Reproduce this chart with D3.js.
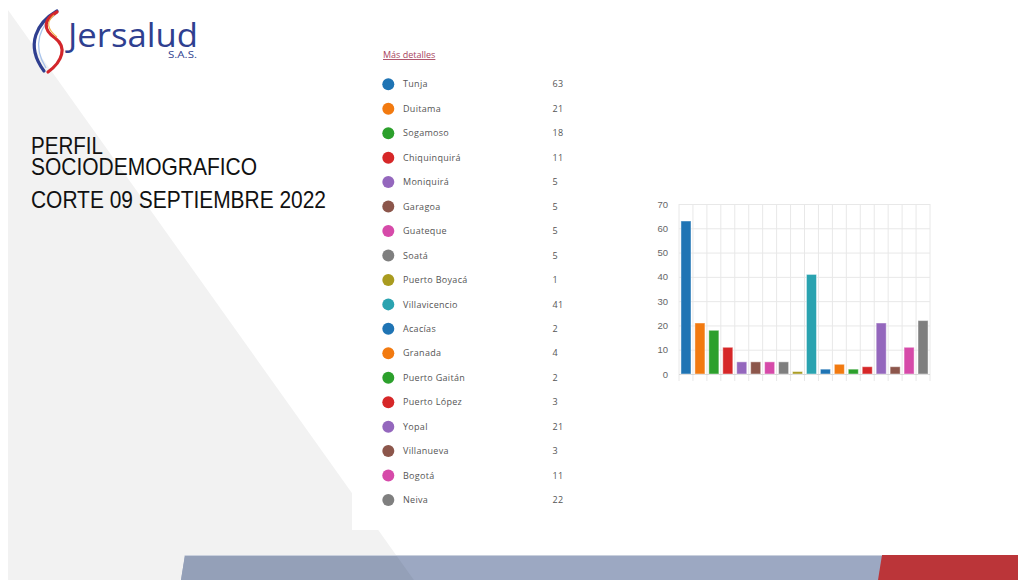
<!DOCTYPE html>
<html>
<head>
<meta charset="utf-8">
<script src="https://cdn.jsdelivr.net/npm/d3@7"></script>
<style>
  html, body { margin: 0; padding: 0; background: #fff; }
  svg { display: block; }
</style>
</head>
<body>
<svg id="slide" width="1018" height="580"></svg>
<script>
// Municipalities and their counts
const categories = ["Tunja", "Duitama", "Sogamoso", "Chiquinquirá", "Moniquirá", "Garagoa",
  "Guateque", "Soatá", "Puerto Boyacá", "Villavicencio", "Acacías", "Granada",
  "Puerto Gaitán", "Puerto López", "Yopal", "Villanueva", "Bogotá", "Neiva"];
const counts = [63, 21, 18, 11, 5, 5, 5, 5, 1, 41, 2, 4, 2, 3, 21, 3, 11, 22];
const palette = ["#1f74b4", "#f27a10", "#2ca02c", "#d62728", "#9467bd", "#8c564b",
  "#d64aa9", "#7f7f7f", "#a99b1f", "#2aa3b0"];
const yTicks = [0, 10, 20, 30, 40, 50, 60, 70];
const titleLines = ["PERFIL", "SOCIODEMOGRAFICO", "CORTE 09 SEPTIEMBRE 2022"];

const svg = d3.select("#slide");
const W = 1018, H = 580;

// ---- slide background ----
svg.append("rect").attr("width", W).attr("height", H).attr("fill", "#ffffff");
// diagonal light-grey wedge on the left
const edgeX = y => 8 + 0.712 * (y - 10);
svg.append("path")
  .attr("d", `M8,10 L${edgeX(10)},10 L${edgeX(580)},580 L8,580 Z`)
  .attr("fill", "#f2f2f2");
// white panel holding the legend and chart
svg.append("rect").attr("x", 352).attr("y", 0).attr("width", W - 352).attr("height", 530)
  .attr("fill", "#ffffff");

// ---- footer band ----
svg.append("path").attr("d", `M185,555 L${W},555 L${W},580 L181,580 Z`).attr("fill", "#9ca8c2");
svg.append("path")
  .attr("d", `M185,555 L${edgeX(555)},555 L${edgeX(580)},580 L181,580 Z`)
  .attr("fill", "#94a0b8");
svg.append("path").attr("d", `M882,555 L${W},555 L${W},580 L878,580 Z`).attr("fill", "#bb3539");
svg.append("line").attr("x1", 185).attr("x2", 882).attr("y1", 555.5).attr("y2", 555.5)
  .attr("stroke", "#c9d0dd").attr("stroke-width", 1);

// ---- logo ----
const logo = svg.append("g");
logo.append("path").attr("d", "M57,11 C38,22 24,44 44,71")
  .attr("fill", "none").attr("stroke", "#2f3f90").attr("stroke-width", 3.2).attr("stroke-linecap", "round");
logo.append("path").attr("d", "M56,14 C41,25 31,44 46,68")
  .attr("fill", "none").attr("stroke", "#a9c4ec").attr("stroke-width", 1.3);
logo.append("path").attr("d", "M57,12 C44,19 42,29 55,38 C67,47 63,61 48,72")
  .attr("fill", "none").attr("stroke", "#d3262b").attr("stroke-width", 3.2).attr("stroke-linecap", "round");
logo.append("path").attr("d", "M54,15 C46,22 47,29 57,37")
  .attr("fill", "none").attr("stroke", "#f2b04a").attr("stroke-width", 1.1);
const brand = logo.append("text")
  .attr("font-family", "'Open Sans', sans-serif").attr("fill", "#2f3f90");
brand.append("tspan").attr("x", 68).attr("y", 47).attr("font-size", 33)
  .attr("textLength", 130).attr("lengthAdjust", "spacingAndGlyphs").text("Jersalud");
brand.append("tspan").attr("x", 168).attr("y", 58).attr("font-size", 8.5)
  .attr("textLength", 29).attr("lengthAdjust", "spacingAndGlyphs").text("S.A.S.");

// ---- title (one text block, tight line spacing) ----
const titleY = [154, 175, 208];
const titleW = [72, 226, 295];
svg.append("text")
  .attr("font-family", "'Liberation Sans', Arial, sans-serif").attr("font-size", 24)
  .attr("fill", "#111")
  .selectAll("tspan").data(titleLines).join("tspan")
  .attr("x", 31).attr("y", (d, i) => titleY[i])
  .attr("textLength", (d, i) => titleW[i]).attr("lengthAdjust", "spacingAndGlyphs")
  .text(d => d);

// ---- legend list ----
svg.append("text").attr("x", 383).attr("y", 58)
  .attr("font-family", "'Open Sans', sans-serif").attr("font-size", 9)
  .attr("fill", "#a8455e").attr("text-decoration", "underline").text("Más detalles");

const rowY = d3.scalePoint().domain(categories).range([84.3, 500]);
const color = d3.scaleOrdinal().domain(categories).range(palette);
const legend = svg.append("g").selectAll("g").data(categories).join("g")
  .attr("transform", d => `translate(0,${rowY(d)})`);
legend.append("circle").attr("cx", 388.3).attr("cy", 0).attr("r", 6).attr("fill", d => color(d));
legend.append("text").attr("x", 403).attr("y", 0).attr("dy", "0.35em")
  .attr("font-family", "'Open Sans', sans-serif").attr("font-size", 9)
  .attr("letter-spacing", 0.3).attr("fill", "#555").text(d => d);
legend.append("text").attr("x", 552.5).attr("y", 0).attr("dy", "0.35em")
  .attr("font-family", "'Open Sans', sans-serif").attr("font-size", 9)
  .attr("letter-spacing", 0.3).attr("fill", "#555").text((d, i) => counts[i]);

// ---- bar chart ----
const x = d3.scaleBand().domain(categories).range([679, 930]).paddingInner(0.28).paddingOuter(0.14);
const y = d3.scaleLinear().domain([0, 70]).range([374, 204]);
const chart = svg.append("g");

// vertical grid at band boundaries, extending below the baseline as ticks
const step = x.step();
const vLines = d3.range(categories.length + 1).map(i => x.range()[0] + i * step);
chart.append("g").selectAll("line").data(vLines).join("line")
  .attr("x1", d => d).attr("x2", d => d).attr("y1", y(70)).attr("y2", y(0) + 7)
  .attr("stroke", "#e8e8e8").attr("stroke-width", 1);

// horizontal grid via the left axis
const yAxis = chart.append("g").attr("transform", "translate(679,0)")
  .call(d3.axisLeft(y).tickValues(yTicks).tickSize(-251).tickPadding(11));
yAxis.select(".domain").remove();
yAxis.selectAll(".tick line").attr("stroke", d => d === 0 ? "#d6d6d6" : "#e8e8e8");
yAxis.selectAll(".tick text")
  .attr("font-family", "'Liberation Sans', Arial, sans-serif").attr("font-size", 9.5)
  .attr("fill", "#666");

chart.append("g").selectAll("rect").data(categories).join("rect")
  .attr("x", d => x(d)).attr("width", x.bandwidth())
  .attr("y", (d, i) => y(counts[i])).attr("height", (d, i) => y(0) - y(counts[i]))
  .attr("fill", d => color(d))
  .attr("stroke", "rgba(255,255,255,0.45)").attr("stroke-width", 1);
</script>
</body>
</html>
